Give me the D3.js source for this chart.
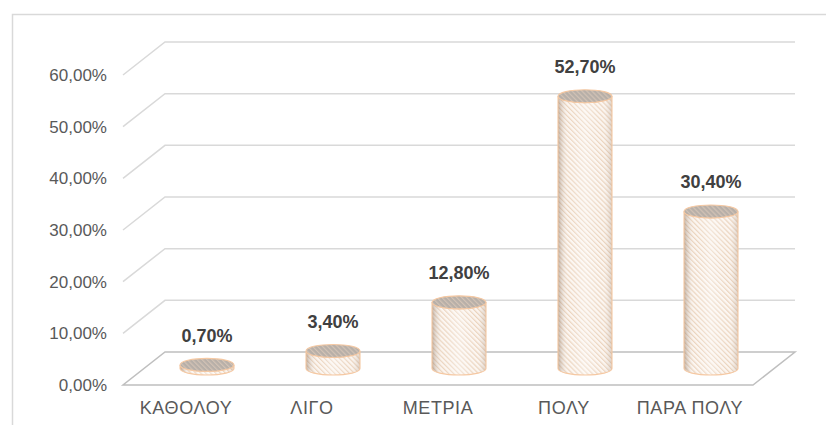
<!DOCTYPE html>
<html>
<head>
<meta charset="utf-8">
<script src="https://cdn.jsdelivr.net/npm/d3@7"></script>
<style>
  html, body { margin: 0; padding: 0; background: #ffffff; }
  svg { display: block; }
</style>
</head>
<body>
<svg id="chart" width="826" height="425"></svg>
<script>
const categories = ["ΚΑΘΟΛΟΥ", "ΛΙΓΟ", "ΜΕΤΡΙΑ", "ΠΟΛΥ", "ΠΑΡΑ ΠΟΛΥ"];
const values = [0.7, 3.4, 12.8, 52.7, 30.4];
const tickValues = [0, 10, 20, 30, 40, 50, 60];

const W = 826, H = 425;
const svg = d3.select("#chart");
const font = "'Liberation Sans', Arial, sans-serif";

const loc = d3.formatLocale({decimal: ",", thousands: ".", grouping: [3], currency: ["", "€"]});
const fmt = loc.format(".2f");

// 3D geometry
const depthX = 42, depthY = -33;
const x = d3.scaleBand().domain(categories).range([123, 753]).paddingInner(0).paddingOuter(0);
const y = d3.scaleLinear().domain([0, 60]).range([385, 75]);

// defs
const defs = svg.append("defs");
const pat = defs.append("pattern").attr("id", "hatch").attr("patternUnits", "userSpaceOnUse")
  .attr("width", 3.5).attr("height", 3.5).attr("patternTransform", "rotate(-45)");
pat.append("rect").attr("width", 3.5).attr("height", 3.5).attr("fill", "#fcf6f1");
pat.append("rect").attr("x", 0).attr("width", 1.2).attr("height", 3.5).attr("fill", "#ebd3bd");

const patTop = defs.append("pattern").attr("id", "hatchTop").attr("patternUnits", "userSpaceOnUse")
  .attr("width", 3.5).attr("height", 3.5).attr("patternTransform", "rotate(-45)");
patTop.append("rect").attr("width", 3.5).attr("height", 3.5).attr("fill", "#b7afa8");
patTop.append("rect").attr("x", 0).attr("width", 1.2).attr("height", 3.5).attr("fill", "#d3c3b5");

const grad = defs.append("linearGradient").attr("id", "shade").attr("x1", "0").attr("x2", "1").attr("y1", "0").attr("y2", "0");
[[0, "#7f644f", 0.45], [0.2, "#ffffff", 0.0], [0.5, "#ffffff", 0.35], [0.82, "#ffffff", 0.0], [1, "#8a6e58", 0.28]]
  .forEach(([o, c, a]) => grad.append("stop").attr("offset", o).attr("stop-color", c).attr("stop-opacity", a));

// frame
svg.append("rect").attr("x", 12.5).attr("y", 14.5).attr("width", W).attr("height", H)
  .attr("fill", "none").attr("stroke", "#d9d9d9").attr("stroke-width", 1.5);

// gridlines on back wall + diagonal side lines
const [x0, x1] = x.range();
const grid = svg.append("g");
tickValues.forEach(t => {
  if (t === 0) return;
  const yf = y(t), yb = y(t) + depthY;
  grid.append("path")
    .attr("d", `M${x0},${yf}L${x0 + depthX},${yb}L${x1 + depthX},${yb}`)
    .attr("fill", "none").attr("stroke", "#d9d9d9").attr("stroke-width", 1.5);
});

// floor
const yf0 = y(0), yb0 = y(0) + depthY;
svg.append("path")
  .attr("d", `M${x0},${yf0}L${x1},${yf0}L${x1 + depthX},${yb0}L${x0 + depthX},${yb0}Z`)
  .attr("fill", "none").attr("stroke", "#bfbfbf").attr("stroke-width", 1.5);

// y-axis labels
svg.append("g").selectAll("text").data(tickValues).join("text")
  .attr("x", 107).attr("y", d => y(d) + 6)
  .attr("text-anchor", "end")
  .attr("font-family", font).attr("font-size", 17).attr("fill", "#595959")
  .text(d => fmt(d) + "%");

// category labels
svg.append("g").selectAll("text").data(categories).join("text")
  .attr("x", d => x(d) + x.bandwidth() / 2)
  .attr("y", 414)
  .attr("text-anchor", "middle")
  .attr("font-family", font).attr("font-size", 18).attr("letter-spacing", 0.6).attr("fill", "#595959")
  .text(d => d);

// cylinders
const rx = 27, ry = 6.5;
const bars = svg.append("g");
categories.forEach((c, i) => {
  const v = values[i];
  const cx = x(c) + x.bandwidth() / 2 + depthX / 2;
  const base = y(0) + depthY / 2;
  const top = y(v) + depthY / 2;
  const body = `M${cx - rx},${top}L${cx - rx},${base}A${rx},${ry} 0 0 0 ${cx + rx},${base}L${cx + rx},${top}A${rx},${ry} 0 0 1 ${cx - rx},${top}Z`;
  const g = bars.append("g");
  g.append("path").attr("d", body).attr("fill", "url(#hatch)");
  g.append("path").attr("d", body).attr("fill", "url(#shade)")
    .attr("stroke", "#f5c8a2").attr("stroke-width", 1.1);
  g.append("ellipse").attr("cx", cx).attr("cy", top).attr("rx", rx).attr("ry", ry)
    .attr("fill", "url(#hatchTop)").attr("stroke", "#f5c8a2").attr("stroke-width", 1.1);
  g.append("text")
    .attr("x", cx).attr("y", top - 23)
    .attr("text-anchor", "middle")
    .attr("font-family", font).attr("font-size", 18).attr("font-weight", "bold").attr("fill", "#404040")
    .text(fmt(v) + "%");
});
</script>
</body>
</html>
